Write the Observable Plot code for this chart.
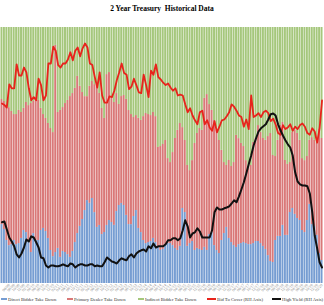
<!DOCTYPE html>
<html><head><meta charset="utf-8">
<script src="https://cdn.jsdelivr.net/npm/d3@7"></script>
<script src="https://cdn.jsdelivr.net/npm/@observablehq/plot@0.6"></script>
<style>
body{margin:0;background:#fff;width:324px;height:305px;overflow:hidden;font-family:"Liberation Serif","DejaVu Serif",serif;}
#title{height:24px;text-align:center;font-weight:bold;font-size:7.5px;line-height:18px;white-space:pre;color:#000;}
#chart{height:269px;}
#legend{position:relative;height:12px;font-size:4.7px;color:#333;}
.item{position:absolute;top:2px;white-space:nowrap;display:flex;align-items:center;height:8px;}
.sw{display:inline-block;margin-right:1px;}
</style></head><body>
<div id="title">2 Year Treasury  Historical Data</div>
<div id="chart"></div>
<div id="legend"></div>
<script>
const seriesNames = ["Direct Bidder Take Down","Primary Dealer Take Down","Indirect Bidder Take Down"];
const lineNames = ["Bid To Cover (RH Axis)","High Yield (RH Axis)"];
const barColors = ["#769dd2","#d97878","#a5c77c"];
const lineColors = ["#e8231c","#111111"];

const direct = [23.0,21.1,16.8,14.8,15.2,16.8,15.2,15.6,17.6,20.7, 19.9,16.8,12.1,19.5,16.8,16.8,20.7,21.5,20.3,17.6, 12.9,10.5,12.1,13.7,10.2,12.5,12.1,11.3,10.2,12.5, 16.0,19.5,22.3,25.0,28.5,32.4,31.3,33.2,27.7,21.9, 22.7,19.1,19.9,22.7,24.6,23.8,22.7,28.1,30.5,31.3, 30.5,26.6,23.0,23.0,26.2,28.5,21.5,19.9,16.8,15.6, 16.0,16.4,17.6,16.0,14.1,12.9,13.3,14.8,15.6,15.6, 14.8,13.7,12.9,14.5,29.3,27.7,14.5,15.6,16.4,12.9, 13.7,13.3,12.9,14.1,12.9,19.1,19.9,14.8,12.9,11.7, 16.8,19.5,21.9,17.6,16.0,14.8,14.1,15.2,15.6,16.0, 15.6,15.2,15.2,15.6,16.4,16.4,15.6,14.5,13.3,10.9, 8.6,8.2,16.8,18.4,18.4,22.7,18.8,18.8,27.7,29.3, 27.0,25.4,24.6,20.7,19.9,24.6,30.9,23.0,22.3,18.8, 11.7,9.0];
const primary = [48.8,50.0,53.1,53.9,52.0,49.2,50.8,52.0,49.2,47.7, 50.8,52.7,58.2,51.6,55.9,54.7,47.7,44.5,44.1,44.9, 47.7,48.4,80.9,53.1,57.4,56.3,58.2,60.2,62.9,61.7, 60.2,61.3,54.7,49.6,44.5,40.6,45.7,45.7,50.0,55.1, 51.6,49.2,44.5,59.0,57.8,48.4,48.0,46.1,39.5,41.8, 43.0,45.3,44.5,43.0,38.7,37.1,43.0,43.8,48.4,50.8, 50.0,49.2,49.2,49.2,39.1,40.6,41.0,41.0,33.2,31.6, 36.3,43.0,46.9,48.0,31.6,28.1,31.6,28.5,31.6,41.8, 44.9,47.3,46.9,58.2,60.9,50.8,47.7,48.8,46.9,44.1, 35.2,27.7,24.2,30.5,29.7,32.4,43.8,41.4,39.1,37.5, 32.4,29.7,30.9,39.5,40.2,45.3,43.4,42.2,42.6,46.5, 50.0,41.8,32.8,37.5,43.4,40.2,29.3,27.7,19.5,29.7, 32.8,33.2,31.3,28.1,28.1,25.0,25.0,34.0,33.6,35.9, 48.8,47.7];
const indirect = [28.1,28.9,30.1,31.3,32.8,34.0,34.0,32.4,33.2,31.6, 29.3,30.5,29.7,28.9,27.3,28.5,31.6,34.0,35.5,37.5, 39.5,41.0,7.0,33.2,32.4,31.3,29.7,28.5,27.0,25.8, 23.8,19.1,23.0,25.4,27.0,27.0,23.0,21.1,22.3,23.0, 25.8,31.6,35.5,18.4,17.6,27.7,29.3,25.8,30.1,27.0, 26.6,28.1,32.4,34.0,35.2,34.4,35.5,36.3,34.8,33.6, 34.0,34.4,33.2,34.8,46.9,46.5,45.7,44.1,51.2,52.7, 48.8,43.4,40.2,37.5,39.1,44.1,53.9,55.9,52.0,45.3, 41.4,39.5,40.2,27.7,26.2,30.1,32.4,36.3,40.2,44.1, 48.0,52.7,53.9,52.0,54.3,52.7,42.2,43.4,45.3,46.5, 52.0,55.1,53.9,44.9,43.4,38.3,41.0,43.4,44.1,42.6, 41.4,50.0,50.4,44.1,38.3,37.1,52.0,53.5,52.7,41.0, 40.2,41.4,44.1,51.2,52.0,50.4,44.1,43.0,44.1,45.3, 39.5,43.4];
const bidToCover = [3.25,3.23,3.20,3.49,3.44,3.44,3.74,3.60,3.60,3.70, 3.64,3.44,3.29,3.33,3.29,3.56,3.48,3.29,3.35,3.75, 3.75,3.96,3.91,3.73,3.70,3.75,3.75,3.80,3.89,3.79, 3.91,3.95,3.84,3.94,4.00,3.95,3.75,3.73,3.58,3.45, 3.64,3.35,3.26,3.26,3.34,3.33,3.41,3.54,3.64,3.75, 3.63,3.61,3.43,3.46,3.56,3.48,3.39,3.38,3.61,3.48, 3.33,3.66,3.61,3.74,3.58,3.55,3.51,3.48,3.50,3.45, 3.41,3.44,3.35,3.36,3.35,3.24,3.14,3.19,3.10,3.04, 2.99,3.14,3.16,2.99,3.04,2.95,2.91,3.03,2.89,2.96, 3.04,3.05,3.09,3.14,3.24,3.21,3.16,3.10,3.08,2.96, 3.05,2.93,3.35,3.08,3.10,3.13,3.08,3.14,3.16,3.13, 3.03,3.06,2.99,2.88,2.86,2.98,2.93,2.95,2.99,2.91, 2.96,2.93,2.98,3.00,2.96,2.88,2.86,2.94,2.90,2.76, 2.94,3.29];
const highYield = [1.53,1.55,1.35,1.15,1.05,0.93,0.73,0.65,0.75,0.90, 1.10,1.05,1.18,1.15,1.03,0.90,0.65,0.63,0.45,0.40, 0.45,0.45,0.43,0.43,0.45,0.48,0.45,0.43,0.50,0.48, 0.40,0.45,0.48,0.48,0.45,0.45,0.48,0.48,0.43,0.45, 0.43,0.43,0.53,0.65,0.60,0.55,0.53,0.50,0.58,0.63, 0.60,0.58,0.68,0.73,0.65,0.75,0.80,0.83,0.85,0.80, 0.93,0.88,1.00,0.90,0.93,0.93,0.93,0.98,1.08,1.08, 1.13,1.13,1.08,1.13,1.33,1.58,1.43,1.15,1.25,1.28, 1.38,1.30,1.15,1.15,1.15,1.15,1.33,1.78,1.90,1.85, 1.85,1.88,1.90,1.93,2.00,2.08,2.03,2.18,2.35,2.53, 2.75,2.98,3.20,3.45,3.63,3.80,3.88,3.93,3.98,4.10, 4.23,4.25,4.20,3.98,3.83,3.70,3.58,3.48,3.40,3.20, 2.78,2.55,2.48,2.45,2.45,2.43,2.25,1.78,1.20,0.88, 0.53,0.40];

// auction months (categories) and their tick labels
const months = d3.utcMonth.range(new Date(Date.UTC(2009, 2, 1)), new Date(Date.UTC(2020, 2, 1)));
const tickLabels = months.map(d3.utcFormat("%m/%y"));
const shownTicks = tickLabels.filter((d, i) => i % 2 === 1 && i >= 3);

// hidden right-hand axes for the two lines
const btcAxis = [1.0, 4.2];
const hyAxis = [0.0, 6.4];

const bars = [];
tickLabels.forEach((m, i) => {
  bars.push({m, series: seriesNames[0], v: direct[i]});
  bars.push({m, series: seriesNames[1], v: primary[i]});
  bars.push({m, series: seriesNames[2], v: indirect[i]});
});
const lines = tickLabels.map((m, i) => ({
  m,
  btc: (bidToCover[i] - btcAxis[0]) / (btcAxis[1] - btcAxis[0]),
  hy: (highYield[i] - hyAxis[0]) / (hyAxis[1] - hyAxis[0])
}));

const chart = Plot.plot({
  width: 324,
  height: 269,
  marginTop: 3,
  marginBottom: 10,
  marginLeft: 0,
  marginRight: 1,
  style: {fontFamily: "Liberation Serif, serif", background: "#fff"},
  x: {type: "band", domain: tickLabels, padding: 0.2, axis: null},
  y: {domain: [0, 1], axis: null},
  color: {domain: seriesNames, range: barColors},
  marks: [
    Plot.barY(bars, {x: "m", y: "v", fill: "series", offset: "normalize", order: seriesNames}),
    Plot.lineY(lines, {x: "m", y: "btc", stroke: lineColors[0], strokeWidth: 1.8}),
    Plot.lineY(lines, {x: "m", y: "hy", stroke: lineColors[1], strokeWidth: 2}),
    Plot.axisX({ticks: shownTicks, tickSize: 0, tickRotate: -45, fontSize: 4, fill: "#888", label: null, tickPadding: 1})
  ]
});
document.getElementById("chart").appendChild(chart);

const legend = document.getElementById("legend");
const legendItems = [
  {name: seriesNames[0], color: barColors[0], x: 1, w: 6, h: 2.5},
  {name: seriesNames[1], color: barColors[1], x: 67, w: 6, h: 2.5},
  {name: seriesNames[2], color: barColors[2], x: 138, w: 6, h: 2.5},
  {name: lineNames[0], color: lineColors[0], x: 207, w: 9, h: 1.5},
  {name: lineNames[1], color: lineColors[1], x: 272, w: 9, h: 1.5}
];
legendItems.forEach(it => {
  const d = document.createElement("div");
  d.className = "item";
  d.style.left = it.x + "px";
  const s = document.createElement("span");
  s.className = "sw";
  s.style.width = it.w + "px";
  s.style.height = it.h + "px";
  s.style.background = it.color;
  d.appendChild(s);
  d.appendChild(document.createTextNode(it.name));
  legend.appendChild(d);
});
</script>
</body></html>
